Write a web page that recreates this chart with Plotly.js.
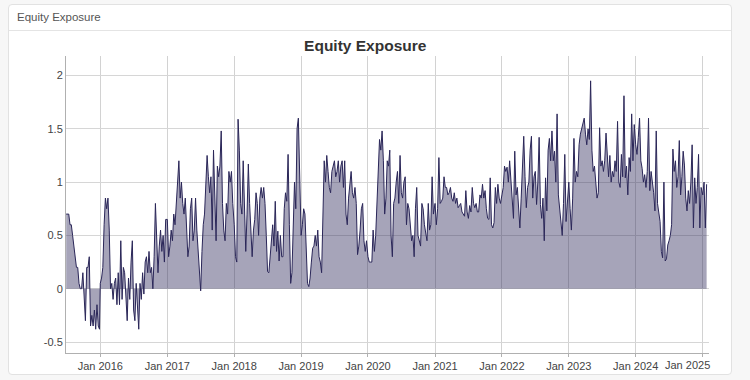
<!DOCTYPE html>
<html>
<head>
<meta charset="utf-8">
<script src="https://cdn.plot.ly/plotly-3.0.1.min.js"></script>
<style>
  html, body { margin:0; padding:0; width:750px; height:380px; background:#f7f7f7; overflow:hidden; font-family:"Liberation Sans", Arial, sans-serif; }
  #card { position:absolute; left:8px; top:4px; width:724px; height:371px; background:#fff; border:1px solid #e2e2e2; border-radius:4px; box-sizing:border-box; }
  #hdr { position:absolute; left:0; top:0; right:0; height:25px; border-bottom:1px solid #e4e4e4; }
  #hdr span { position:absolute; left:8px; top:6px; font-size:11.5px; color:#555; }
  #chart { position:absolute; left:0; top:0; width:750px; height:380px; }
</style>
</head>
<body>
<div id="card"><div id="hdr"><span>Equity Exposure</span></div></div>
<div id="chart"></div>
<script>
// weekly readings, 2015 series starts 2015-06-29, others start Jan 1 of their year
const v2015 = [0.70,0.70,0.70,0.60,0.60,0.50,0.40,0.30,0.20,0.20,0.05,0.00,0.00,0.15,-0.10,-0.30,0.20,0.20,0.30,-0.35,-0.25,-0.35,-0.20,-0.38,-0.15,-0.35,-0.38];
const v2016 = [0.05,0.10,0.20,0.60,0.85,0.75,0.85,0.55,0.00,0.05,-0.10,0.05,0.10,-0.15,0.15,-0.15,0.45,-0.10,0.20,0.15,-0.05,-0.30,0.10,-0.10,0.25,0.45,-0.20,-0.30,0.05,-0.25,-0.38,0.05,-0.10,0.15,-0.05,0.25,0.30,0.15,0.35,0.15,0.20,0.00,0.30,0.80,0.45,0.15,0.40,0.55,0.35,0.50,0.25,0.65];
const v2017 = [0.65,0.30,0.40,0.55,0.45,0.70,0.60,0.80,0.90,1.20,0.85,1.00,0.80,0.70,0.85,0.60,0.30,0.40,0.75,0.85,0.45,0.55,0.85,0.55,0.35,0.15,-0.02,0.35,0.60,0.70,0.95,1.25,1.05,0.90,1.05,0.55,1.30,0.95,0.45,1.15,1.05,1.15,1.48,0.80,0.55,0.45,0.80,0.70,1.10,1.00,1.10,0.80];
const v2018 = [0.60,0.30,0.25,1.59,1.30,0.80,0.70,1.20,0.75,0.35,0.70,1.17,0.80,0.55,0.30,0.55,0.65,0.90,0.80,0.50,0.85,0.95,0.85,0.95,0.80,0.50,0.16,0.15,0.30,0.45,0.60,0.40,0.82,0.35,0.54,0.26,0.50,0.30,0.30,0.75,0.90,0.82,1.26,0.60,0.05,0.15,0.60,1.00,0.75,1.50,1.60,1.10];
const v2019 = [0.50,0.60,0.75,0.70,0.38,0.05,0.02,0.10,0.25,0.38,0.40,0.50,0.40,0.55,0.30,0.25,0.15,0.80,1.20,1.00,1.25,1.10,0.95,0.90,1.10,1.15,1.20,1.05,1.10,1.20,1.00,1.15,1.20,0.95,1.20,0.70,0.60,0.85,0.95,1.10,0.90,0.85,0.95,0.80,0.32,0.40,0.55,0.75,0.80,0.45,0.35,0.45];
const v2020 = [0.30,0.25,0.25,0.25,0.55,0.35,0.50,0.85,1.23,1.40,1.30,1.48,1.20,0.70,0.85,1.20,1.15,1.30,0.50,0.30,0.80,0.85,1.00,1.10,0.80,1.25,0.90,0.85,1.00,1.05,0.60,0.80,0.75,0.55,0.45,0.50,0.30,0.75,0.95,0.50,0.45,0.40,0.80,0.75,0.60,0.50,0.45,0.80,0.55,0.60,1.05,0.70];
const v2021 = [0.80,0.60,0.75,1.23,0.80,0.82,0.85,1.05,0.95,0.95,0.88,0.90,0.95,0.85,0.82,0.90,0.80,0.85,0.76,0.78,0.80,0.72,0.70,0.68,0.92,0.72,0.66,0.78,0.72,0.95,0.80,0.76,0.80,0.72,0.72,0.88,0.85,0.98,0.85,0.92,0.75,0.66,0.65,1.04,0.60,0.57,0.62,0.95,0.80,0.98,0.85,0.80];
const v2022 = [0.88,0.95,1.15,1.10,1.14,1.00,1.20,1.00,0.90,0.66,1.29,0.88,0.95,0.80,0.57,0.85,1.20,1.43,1.05,0.76,0.95,1.00,1.30,1.43,0.85,1.05,1.10,0.79,1.00,1.42,0.79,0.66,0.85,0.45,1.04,0.73,1.30,1.41,1.20,1.48,1.20,1.29,1.00,1.64,0.88,0.73,0.65,0.50,0.80,1.26,0.63,0.85];
const v2023 = [1.00,0.75,0.55,0.85,1.41,1.00,1.10,1.05,1.35,1.45,1.50,1.56,1.60,1.45,1.35,1.50,1.40,1.95,1.30,1.10,1.15,1.00,0.85,0.90,1.51,1.15,1.20,1.10,1.20,1.46,1.30,1.05,1.25,1.00,1.10,1.05,1.20,1.10,1.57,1.00,0.95,1.26,1.05,1.81,1.04,1.15,0.88,1.23,1.10,1.64,1.20,1.54];
const v2024 = [1.35,1.26,1.42,1.60,1.20,1.13,1.00,1.07,0.95,1.10,1.60,0.92,1.10,1.00,0.90,0.73,1.48,0.80,0.73,0.63,0.35,0.29,1.00,0.26,0.28,0.41,0.45,0.50,0.60,1.31,1.10,1.20,0.95,1.05,1.39,0.88,1.05,1.29,1.16,0.85,0.73,0.92,0.80,1.00,1.35,0.57,1.04,0.80,0.95,1.26,0.57,0.95];
const v2025 = [0.88,1.00,0.57,0.98];

const yTickVals = [-0.5, 0, 0.5, 1, 1.5, 2];
const yTickText = ['-0.5', '0', '0.5', '1', '1.5', '2'];
const xTickVals = ['2016-01-01','2017-01-01','2018-01-01','2019-01-01','2020-01-01','2021-01-01','2022-01-01','2023-01-01','2024-01-01','2025-01-01'];
const xTickText = ['Jan 2016','Jan 2017','Jan 2018','Jan 2019','Jan 2020','Jan 2021','Jan 2022','Jan 2023','Jan 2024',''];
const lastTickLabel = 'Jan 2025';

function weekly(y, m, d, vals) {
  return vals.map((v, i) => {
    const dt = new Date(Date.UTC(y, m, d + 7 * i));
    return dt.toISOString().slice(0, 10);
  });
}
const segs = [[2015,5,29,v2015],[2016,0,1,v2016],[2017,0,1,v2017],[2018,0,1,v2018],[2019,0,1,v2019],[2020,0,1,v2020],[2021,0,1,v2021],[2022,0,1,v2022],[2023,0,1,v2023],[2024,0,1,v2024],[2025,0,1,v2025]];
let xs = [], ys = [];
segs.forEach(s => { xs = xs.concat(weekly(s[0], s[1], s[2], s[3])); ys = ys.concat(s[3]); });

const trace = {
  x: xs, y: ys, type: 'scatter', mode: 'lines', fill: 'tozeroy',
  line: { color: '#2a2658', width: 1 },
  fillcolor: 'rgba(42,38,88,0.42)',
  hoverinfo: 'skip'
};
const layout = {
  width: 750, height: 380,
  margin: { l: 66, r: 41, t: 56, b: 27 },
  paper_bgcolor: 'rgba(0,0,0,0)', plot_bgcolor: 'rgba(0,0,0,0)',
  font: { family: '"Liberation Sans", Arial, sans-serif', size: 11, color: '#444' },
  title: { text: '<b>Equity Exposure</b>', font: { size: 15.5, color: '#333' }, xref: 'container', x: 0.487, xanchor: 'center', yref: 'container', y: 1 - 46/380, yanchor: 'middle' },
  showlegend: false,
  xaxis: {
    type: 'date', range: ['2015-06-28', '2025-02-04'],
    tickvals: xTickVals, ticktext: xTickText,
    showgrid: true, gridcolor: '#d2d2d2', gridwidth: 1,
    showline: true, linecolor: '#b0b0b0', linewidth: 1,
    ticks: 'outside', ticklen: 3, tickcolor: '#b0b0b0',
    tickfont: { size: 11, color: '#444' }, zeroline: false
  },
  yaxis: {
    range: [-0.603, 2.183],
    tickvals: yTickVals, ticktext: yTickText,
    showgrid: true, gridcolor: '#d6d6d6', gridwidth: 1,
    showline: true, linecolor: '#b0b0b0', linewidth: 1,
    ticks: '', tickfont: { size: 11, color: '#444' },
    zeroline: false
  },
  annotations: [{
    text: lastTickLabel, xref: 'paper', yref: 'paper', x: 1.005, y: -0.0135,
    xanchor: 'right', yanchor: 'top', showarrow: false,
    font: { size: 11, color: '#444' }
  }]
};
Plotly.newPlot('chart', [trace], layout, { staticPlot: true, displayModeBar: false });
</script>
</body>
</html>
